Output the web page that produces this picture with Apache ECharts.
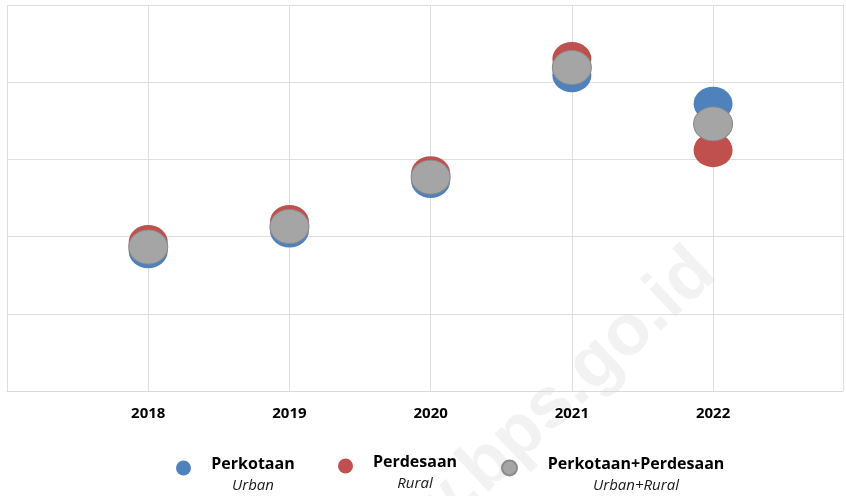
<!DOCTYPE html>
<html>
<head>
<meta charset="utf-8">
<script src="https://cdn.jsdelivr.net/npm/echarts@6/dist/echarts.min.js"></script>
<style>
  html, body { margin: 0; padding: 0; background: #fff; }
  #chart { width: 846px; height: 496px; }
</style>
</head>
<body>
<div id="chart"></div>
<script>
  // tahun & nilai (skala sumbu y tidak ditampilkan di gambar asli)
  let years = [2018, 2019, 2020, 2021, 2022];
  let perkotaan = [1.81, 2.08, 2.72, 4.09, 3.72];
  let perdesaan = [1.93, 2.19, 2.82, 4.30, 3.12];
  let gabungan = [1.865, 2.13, 2.77, 4.19, 3.46];

  let names = ['Perkotaan', 'Perdesaan', 'Perkotaan+Perdesaan'];
  let subNames = ['Urban', 'Rural', 'Urban+Rural'];
  let colors = ['#4f81bd', '#c0504d', '#a5a5a5'];
  let font = '"Open Sans", "Liberation Sans", sans-serif';

  let chart = echarts.init(document.getElementById('chart'));

  function pairs(vals) {
    return years.map(function (y, i) { return [y, vals[i]]; });
  }

  // legend: satu komponen per item supaya posisinya bisa diatur
  function makeLegend(idx, left, top, w) {
    return {
      data: [names[idx]],
      left: left,
      top: top,
      padding: 0,
      icon: 'circle',
      itemWidth: 15,
      itemHeight: 15,
      itemGap: 0,
      selectedMode: false,
      formatter: function (n) { return '{a|' + n + '}\n{b|' + subNames[idx] + '}'; },
      textStyle: {
        rich: {
          a: { fontFamily: font, fontWeight: 'bold', fontSize: 16, color: '#000', width: w, align: 'center', lineHeight: 36 },
          b: { fontFamily: font, fontStyle: 'italic', fontSize: 15, color: '#1a1a1a', width: w, align: 'center', lineHeight: 8 }
        }
      }
    };
  }

  function makeSeries(idx, vals, z) {
    let s = {
      name: names[idx],
      type: 'scatter',
      data: pairs(vals),
      symbol: 'circle',
      symbolSize: [39, 34],
      z: z,
      itemStyle: { color: colors[idx], opacity: 1 },
      emphasis: { disabled: true }
    };
    if (idx === 2) {
      s.itemStyle.borderColor = '#8a8a8a';
      s.itemStyle.borderWidth = 1;
    }
    return s;
  }

  let option = {
    backgroundColor: '#fff',
    animation: false,
    grid: { left: 7, right: 0, top: 5, bottom: 105 },
    xAxis: {
      type: 'value',
      min: 2017,
      max: 2022.92,
      interval: 1,
      axisLine: { show: true, lineStyle: { color: '#d9d9d9', width: 1 } },
      axisTick: { show: false },
      splitLine: { show: true, lineStyle: { color: '#dedede', width: 1 } },
      axisLabel: {
        margin: 15,
        fontFamily: font,
        fontWeight: 'bold',
        fontSize: 15,
        color: '#000',
        formatter: function (v) { return years.indexOf(v) >= 0 ? String(v) : ''; }
      }
    },
    yAxis: {
      type: 'value',
      min: 0,
      max: 5,
      interval: 1,
      axisLine: { show: false },
      axisTick: { show: false },
      axisLabel: { show: false },
      splitLine: { show: true, lineStyle: { color: '#dedede', width: 1 } }
    },
    legend: [
      makeLegend(0, 176, 456, 114),
      makeLegend(1, 338, 454, 114),
      makeLegend(2, 501, 456, 228)
    ],
    graphic: [{
      type: 'text',
      z: -10,
      silent: true,
      x: 705,
      y: 262,
      rotation: 43 * Math.PI / 180,
      style: {
        text: 'www.bps.go.id',
        font: 'bold 72px "Liberation Sans", sans-serif',
        fill: '#f2f2f2',
        textAlign: 'right',
        textVerticalAlign: 'middle'
      }
    }],
    series: [
      makeSeries(0, perkotaan, 3),
      makeSeries(1, perdesaan, 4),
      makeSeries(2, gabungan, 5)
    ]
  };

  chart.setOption(option);
</script>
</body>
</html>
